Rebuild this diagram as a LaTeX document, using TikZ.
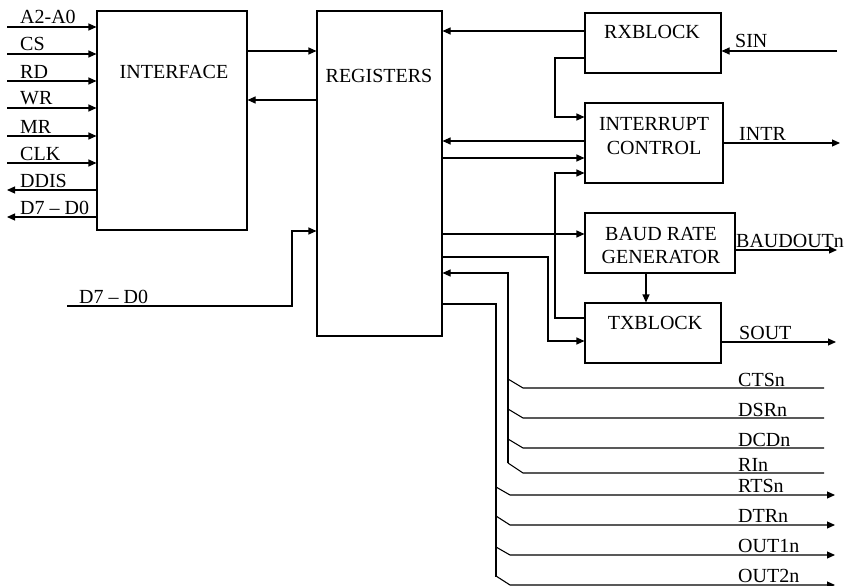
\documentclass[tikz,border=0pt]{standalone}
\usepackage{fontspec}
\setmainfont{Liberation Serif}
\usetikzlibrary{arrows.meta}
\begin{document}
\begin{tikzpicture}[x=1pt,y=-1pt,
  box/.style={draw,line width=1.1pt,inner sep=0pt},
  wire/.style={line width=1.1pt},
  arr/.style={line width=1.1pt,-{Triangle[length=8pt,width=7pt]}},
  lbl/.style={anchor=base west,inner sep=0pt,font=\fontsize{20}{22}\selectfont},
  blbl/.style={anchor=base,inner sep=0pt,font=\fontsize{20}{22}\selectfont}]
\useasboundingbox (0,0) rectangle (844,586);
% blocks
\node[box,minimum width=150pt,minimum height=219pt] (intf) at (172,120.5) {};
\node[box,minimum width=125pt,minimum height=325pt] (reg) at (379.5,173.5) {};
\node[box,minimum width=136pt,minimum height=60pt] (rx) at (653,43) {};
\node[box,minimum width=138pt,minimum height=80pt] (ic) at (654,143) {};
\node[box,minimum width=150pt,minimum height=60pt] (baud) at (660,243) {};
\node[box,minimum width=136pt,minimum height=60pt] (tx) at (653,333) {};
% block labels
\node[blbl] (tintf) at (174,78) {INTERFACE};
\node[blbl] (treg) at (379,82) {REGISTERS};
\node[blbl] (trx) at (652,39) {RXBLOCK};
\node[blbl] (tic1) at (654,131) {INTERRUPT};
\node[blbl] (tic2) at (654,154) {CONTROL};
\node[blbl] (tb1) at (661,240) {BAUD RATE};
\node[blbl] (tb2) at (661,263) {GENERATOR};
\node[blbl] (ttx) at (655,329) {TXBLOCK};
% left inputs
\foreach \n/\y/\t in {a/27/A2-A0,cs/54/CS,rd/81/RD,wr/108/WR,mr/136/MR,clk/163/CLK}{
  \coordinate (in\n) at (7,\y);
  \draw[arr] (in\n) -- (in\n -| intf.west);
  \node[lbl] (l\n) at (20,\y-3) {\t};
}
\foreach \n/\y/\t in {ddis/190/DDIS,dd/217/D7 – D0}{
  \coordinate (out\n) at (7,\y);
  \draw[arr] (out\n -| intf.west) -- (out\n);
  \node[lbl] (l\n) at (20,\y-3) {\t};
}
% interface <-> registers
\draw[arr] (intf.east |- 0,51) -- (reg.west |- 0,51);
\draw[arr] (reg.west |- 0,100) -- (intf.east |- 0,100);
% lower D7-D0
\coordinate (dIn) at (67,306);
\draw[arr] (dIn) -- (292,306) -- (292,231) -- (reg.west |- 0,231);
\node[lbl] (ldin) at (79,303) {D7 – D0};
% rx
\draw[arr] (rx.west |- 0,31) -- (reg.east |- 0,31);
\coordinate (sin) at (837,51);
\draw[arr] (sin) -- (sin -| rx.east);
\node[lbl] (lsin) at (735,47.5) {SIN};
\draw[arr] (rx.west |- 0,58) -- (555,58) -- (555,117) -- (ic.west |- 0,117);
% interrupt control
\draw[arr] (ic.west |- 0,141) -- (reg.east |- 0,141);
\draw[arr] (reg.east |- 0,158) -- (ic.west |- 0,158);
\draw[arr] (tx.west |- 0,318) -- (555,318) -- (555,173) -- (ic.west |- 0,173);
\coordinate (intr) at (840,143);
\draw[arr] (ic.east |- intr) -- (intr);
\node[lbl] (lintr) at (739,140) {INTR};
% baud
\draw[arr] (reg.east |- 0,234) -- (baud.west |- 0,234);
\coordinate (bo) at (837,250);
\draw[arr] (baud.east |- bo) -- (bo);
\node[lbl] (lbo) at (736,247) {BAUDOUTn};
\draw[arr] (baud.south -| 646,0) -- (tx.north -| 646,0);
% tx
\draw[arr] (reg.east |- 0,257) -- (548,257) -- (548,341) -- (tx.west |- 0,341);
\coordinate (so) at (836,342);
\draw[arr] (tx.east |- so) -- (so);
\node[lbl] (lso) at (739,339) {SOUT};
% modem input bus
\draw[arr] (508,463) -- (508,273) -- (reg.east |- 0,273);
\foreach \n/\a/\b/\t in {cts/379/388/CTSn,dsr/409/418/DSRn,dcd/439/448/DCDn,ri/463/473/RIn}{
  \coordinate (e\n) at (824,\b);
  \draw[wire] (e\n) -- (523,\b) -- (508,\a);
  \node[lbl] (l\n) at (738,\b-2) {\t};
}
% modem output bus
\draw[wire] (reg.east |- 0,304) -- (496,304) -- (496,577);
\foreach \n/\a/\b/\t in {rts/487/495/RTSn,dtr/516/525/DTRn,outa/547/555/OUT1n,outb/576/585/OUT2n}{
  \coordinate (e\n) at (835,\b);
  \draw[arr] (496,\a) -- (510,\b) -- (e\n);
  \node[lbl] (l\n) at (738,\b-3) {\t};
}
\end{tikzpicture}
\end{document}
